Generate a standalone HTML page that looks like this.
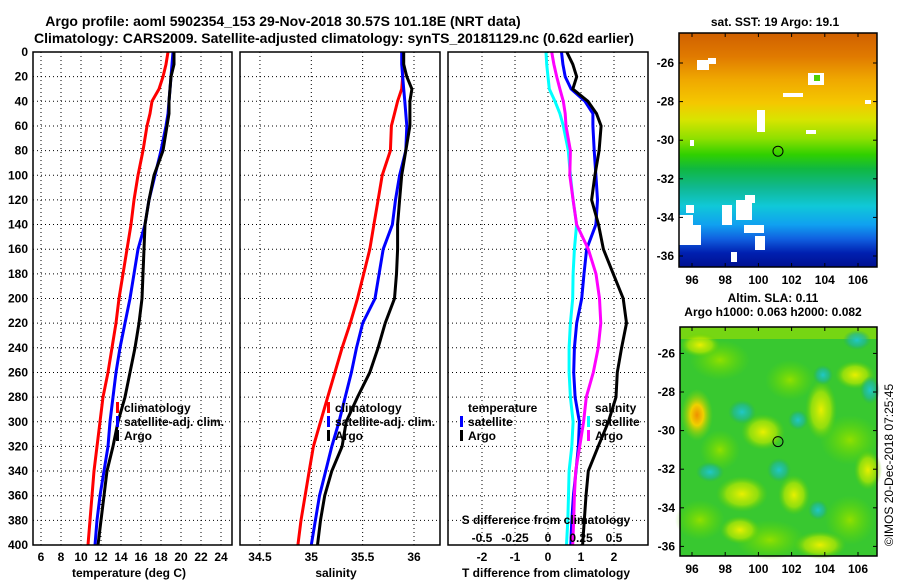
<!DOCTYPE html>
<html><head><meta charset="utf-8"><style>
html,body{margin:0;padding:0;background:#fff;}
svg{display:block;font-family:"Liberation Sans",sans-serif;font-weight:bold;}
</style></head><body>
<svg id="fig" width="900" height="580" viewBox="0 0 900 580" xmlns="http://www.w3.org/2000/svg">
<defs>
<linearGradient id="sstg" x1="0" y1="0" x2="0" y2="1">
<stop offset="0" stop-color="#d06000"/><stop offset="0.1" stop-color="#e07a00"/><stop offset="0.2" stop-color="#f0a800"/><stop offset="0.3" stop-color="#f4c800"/><stop offset="0.37" stop-color="#d8e400"/><stop offset="0.45" stop-color="#90e000"/><stop offset="0.52" stop-color="#30d000"/><stop offset="0.58" stop-color="#10b840"/><stop offset="0.66" stop-color="#10b890"/><stop offset="0.74" stop-color="#10c8d8"/><stop offset="0.82" stop-color="#10a0f0"/><stop offset="0.88" stop-color="#1060e0"/><stop offset="0.94" stop-color="#0020b0"/><stop offset="1" stop-color="#001090"/></linearGradient>
<radialGradient id="yb"><stop offset="0" stop-color="#e8f000"/><stop offset="0.6" stop-color="#b8e800" stop-opacity="0.7"/><stop offset="1" stop-color="#60d000" stop-opacity="0"/></radialGradient>
<radialGradient id="ob"><stop offset="0" stop-color="#f09000"/><stop offset="0.4" stop-color="#f0d000"/><stop offset="1" stop-color="#80d800" stop-opacity="0"/></radialGradient>
<radialGradient id="cb"><stop offset="0" stop-color="#20c8c8"/><stop offset="0.6" stop-color="#20b898" stop-opacity="0.7"/><stop offset="1" stop-color="#20b060" stop-opacity="0"/></radialGradient>
<radialGradient id="lb"><stop offset="0" stop-color="#90e000"/><stop offset="1" stop-color="#60d800" stop-opacity="0"/></radialGradient>
</defs>
<g id="plots"></g>
</svg>
<script>
// ---- data arrays ----
const depths = [0,10,20,30,40,50,60,80,100,120,140,160,180,200,220,240,260,280,300,320,340,360,380,400];
const tempClim = [18.7,18.5,18.2,17.8,17.1,16.9,16.6,16.2,15.7,15.3,15.0,14.6,14.2,13.8,13.5,13.1,12.7,12.2,11.9,11.6,11.3,11.1,10.9,10.7];
const tempSat  = [19.2,19.1,19.0,18.9,18.8,18.7,18.5,18.0,17.4,16.8,16.4,15.7,15.3,14.9,14.4,13.9,13.5,13.2,12.9,12.7,12.3,11.9,11.6,11.4];
const tempArgo = [19.3,19.3,19.0,18.9,18.8,18.8,18.6,18.2,17.3,16.8,16.4,16.3,16.2,16.1,15.8,15.4,14.9,14.4,13.7,13.2,12.6,12.3,12.0,11.7];
const salClim  = [35.89,35.89,35.89,35.88,35.84,35.81,35.78,35.77,35.69,35.65,35.61,35.57,35.51,35.45,35.38,35.30,35.23,35.16,35.09,35.02,34.98,34.94,34.90,34.87];
const salSat   = [35.88,35.88,35.89,35.90,35.91,35.92,35.93,35.92,35.86,35.82,35.79,35.70,35.66,35.62,35.50,35.44,35.39,35.33,35.27,35.20,35.14,35.08,35.04,35.00];
const salArgo  = [35.90,35.90,35.93,35.98,35.96,35.96,35.96,35.92,35.88,35.86,35.84,35.84,35.83,35.81,35.72,35.65,35.57,35.45,35.34,35.30,35.20,35.13,35.09,35.06];
const dTSat    = [0.41,0.45,0.52,0.7,1.12,1.36,1.36,1.40,1.45,1.50,1.45,1.17,1.09,1.02,0.87,0.80,0.78,0.82,0.95,0.92,0.85,0.77,0.72,0.69];
const dTArgo   = [0.57,0.75,0.87,0.75,1.21,1.47,1.61,1.55,1.42,1.32,1.53,1.68,1.98,2.28,2.38,2.23,2.10,2.06,1.83,1.52,1.22,1.15,1.10,1.05];
const dSSat    = [-0.015,-0.01,0.0,0.01,0.053,0.09,0.116,0.154,0.17,0.19,0.217,0.2,0.19,0.187,0.17,0.16,0.16,0.17,0.19,0.18,0.16,0.155,0.15,0.14];
const dSArgo   = [0.028,0.045,0.066,0.09,0.116,0.13,0.136,0.17,0.165,0.19,0.217,0.305,0.364,0.39,0.40,0.38,0.343,0.29,0.27,0.24,0.21,0.2,0.195,0.187];
const depthTicks = [0,20,40,60,80,100,120,140,160,180,200,220,240,260,280,300,320,340,360,380,400];
const tempTicks = [6,8,10,12,14,16,18,20,22,24];
const salTicks = [34.5,35,35.5,36];
const salTickLabels = ["34.5","35","35.5","36"];
const dTTicks = [-2,-1,0,1,2];
const dSTicks = [-0.5,-0.25,0,0.25,0.5];
const dSTickLabels = ["-0.5","-0.25","0","0.25","0.5"];
const latTicks = [-26,-28,-30,-32,-34,-36];
const lonTicks = [96,98,100,102,104,106];
const floatLon = 101.18, floatLat = -30.57;

// ---- helpers ----
const NS="http://www.w3.org/2000/svg";
const root=document.getElementById('plots');
function mk(tag,attrs,parent){const e=document.createElementNS(NS,tag);for(const k in attrs)e.setAttribute(k,attrs[k]);(parent||root).appendChild(e);return e;}
function txt(x,y,s,size,anchor,parent){const t=mk('text',{x:x,y:y,'font-size':size,'text-anchor':anchor||'start'},parent);t.textContent=s;return t;}
const Y=d=>52+d*(493/400);
const xT=v=>41+(v-6)*10;
const xS=v=>311.3+(v-35)*102.7;
const xD=v=>548+v*33;
const xDS=v=>548+v*132;

function panel(name,x0,x1,xTicks,xf){
  const g=mk('g',{});
  
  
  depthTicks.forEach(d=>{if(d>0&&d<400){mk('line',{x1:x0,x2:x1,y1:Y(d),y2:Y(d),stroke:'#000','stroke-width':1,'stroke-dasharray':'1,3'},g);}});
  xTicks.forEach(v=>{const X=xf(v);mk('line',{x1:X,x2:X,y1:52,y2:545,stroke:'#000','stroke-width':1,'stroke-dasharray':'1,3'},g);});
  return g;
}
function frame(name,x0,x1){
  const r=mk('rect',{x:x0,y:52,width:x1-x0,height:493,fill:'none',stroke:'#000','stroke-width':1.5});
  
  
}
function line(name,vals,xf,color){
  const pts=vals.map((v,i)=>xf(v).toFixed(1)+','+Y(depths[i]).toFixed(1)).join(' ');
  const p=mk('polyline',{points:pts,fill:'none',stroke:color,'stroke-width':3,'stroke-linejoin':'miter'});
  
  
}

// titles
let t=txt(283,26,'Argo profile: aoml 5902354_153 29-Nov-2018 30.57S 101.18E (NRT data)',14,'middle');


t=txt(334,43,'Climatology: CARS2009. Satellite-adjusted climatology: synTS_20181129.nc (0.62d earlier)',14,'middle');



// depth labels
depthTicks.forEach(d=>{const e=txt(28,Y(d)+4,String(d),12,'end');});

// panel 1 temperature
panel('temperature-grid',33,232,tempTicks,xT);
line('temp-climatology-line',tempClim,xT,'#ff0000');
line('temp-satellite-line',tempSat,xT,'#0000ff');
line('temp-argo-line',tempArgo,xT,'#000000');
frame('temperature-panel',33,232);
tempTicks.forEach(v=>{const e=txt(xT(v),561,String(v),12,'middle');});
t=txt(129,577,'temperature (deg C)',12,'middle');

// panel 2 salinity
panel('salinity-grid',240,440,salTicks,xS);
line('sal-climatology-line',salClim,xS,'#ff0000');
line('sal-satellite-line',salSat,xS,'#0000ff');
line('sal-argo-line',salArgo,xS,'#000000');
frame('salinity-panel',240,440);
salTicks.forEach((v,i)=>{const e=txt(xS(v),561,salTickLabels[i],12,'middle');});
t=txt(336,577,'salinity',12,'middle');

// panel 3 differences
panel('difference-grid',448,648,dTTicks,xD);
line('dS-satellite-line',dSSat,xDS,'#00ffff');
line('dT-satellite-line',dTSat,xD,'#0000ff');
line('dS-argo-line',dSArgo,xDS,'#ff00ff');
line('dT-argo-line',dTArgo,xD,'#000000');
frame('difference-panel',448,648);
dTTicks.forEach(v=>{const e=txt(xD(v),561,String(v),12,'middle');});
dSTicks.forEach((v,i)=>{const e=txt(xDS(v),542,dSTickLabels[i],12,'middle');});
t=txt(546,524,'S difference from climatology',12,'middle');
t=txt(546,577,'T difference from climatology',12,'middle');

// legends
function legItem(name,mx,tx,y,color,label){
  const g=mk('g',{});
  
  
  if(color)mk('rect',{x:mx,y:y-10,width:3,height:11,fill:color},g);
  txt(tx,y,label,12,'start',g);
}
legItem('legend-climatology',116,124,412,'#ff0000','climatology');
legItem('legend-satellite-adj',116,124,426,'#0000ff','satellite-adj. clim.');
legItem('legend-argo',116,124,440,'#000000','Argo');
legItem('legend-sal-climatology',327,335,412,'#ff0000','climatology');
legItem('legend-sal-satellite-adj',327,335,426,'#0000ff','satellite-adj. clim.');
legItem('legend-sal-argo',327,335,440,'#000000','Argo');
legItem('legend-temperature-header',0,468,412,null,'temperature');
legItem('legend-t-satellite',460,468,426,'#0000ff','satellite');
legItem('legend-t-argo',460,468,440,'#000000','Argo');
legItem('legend-salinity-header',0,595,412,null,'salinity');
legItem('legend-s-satellite',587,595,426,'#00ffff','satellite');
legItem('legend-s-argo',587,595,440,'#ff00ff','Argo');

// maps
function mapAxes(name,x0,y0,x1,y1,latRef,yRef){
  const lx=v=>692+(v-96)*16.6;
  const ly=v=>yRef+(latRef-v)*19.3;
  const g=mk('g',{});
  
  
  mk('rect',{x:x0,y:y0,width:x1-x0,height:y1-y0,fill:'none',stroke:'#000','stroke-width':1.5},g);
  latTicks.forEach(v=>{const yy=ly(v);mk('line',{x1:x0,x2:x0+4,y1:yy,y2:yy,stroke:'#000'},g);mk('line',{x1:x1,x2:x1-4,y1:yy,y2:yy,stroke:'#000'},g);txt(x0-5,yy+4,String(v),12,'end',g);});
  lonTicks.forEach(v=>{const xx=lx(v);mk('line',{x1:xx,x2:xx,y1:y1,y2:y1-4,stroke:'#000'},g);mk('line',{x1:xx,x2:xx,y1:y0,y2:y0+4,stroke:'#000'},g);txt(xx,y1+17,String(v),12,'middle',g);});
  mk('circle',{cx:lx(floatLon),cy:ly(floatLat),r:5,fill:'none',stroke:'#000','stroke-width':1},g);
}
// top map: SST
let m=mk('g',{});


mk('rect',{x:679,y:33,width:198,height:234,fill:'url(#sstg)'},m);
[[697,60,12,10],[708,58,8,6],[808,73,16,12],[783,93,20,4],[757,110,8,22],[690,140,4,6],[736,200,16,20],[745,195,10,8],[722,205,10,20],[679,225,22,20],[679,215,14,10],[744,225,20,8],[755,236,10,14],[731,252,6,10],[865,100,6,4],[806,130,10,4],[686,205,8,8]].forEach(r=>mk('rect',{x:r[0],y:r[1],width:r[2],height:r[3],fill:'#fff'},m));
mk('rect',{x:814,y:75,width:6,height:6,fill:'#50d000'},m);
mapAxes('sst-map-axes',679,33,877,267,-26,63);
t=txt(775,26,'sat. SST: 19 Argo: 19.1',12,'middle');
t=txt(773,302,'Altim. SLA: 0.11',12,'middle');
t=txt(773,316,'Argo h1000: 0.063 h2000: 0.082',12,'middle');

// bottom map: SLA
m=mk('g',{});


mk('rect',{x:680,y:327,width:197,height:229,fill:'#38c830'},m);
mk('rect',{x:680,y:327,width:197,height:12,fill:'#a0e000',opacity:0.6},m);
[[720,360,30,20],[850,440,30,25],[700,520,25,20],[770,540,35,20],[850,520,25,25],[790,380,25,20],[720,450,20,20]].forEach(b=>mk('ellipse',{cx:b[0],cy:b[1],rx:b[2],ry:b[3],fill:'url(#lb)'},m));
[[697,415,'ob',16,26],[763,432,'yb',22,18],[742,494,'yb',26,18],[794,495,'yb',16,20],[821,410,'yb',16,30],[740,530,'yb',20,14],[820,545,'yb',26,14],[700,345,'yb',20,12],[855,375,'yb',20,14],[868,470,'yb',14,20]].forEach(b=>mk('ellipse',{cx:b[0],cy:b[1],rx:b[3],ry:b[4],fill:'url(#'+b[2]+')'},m));
[[742,412,14,12],[798,420,10,10],[779,470,12,12],[823,375,10,10],[870,390,10,14],[818,510,10,10],[857,340,14,10],[710,472,14,10]].forEach(b=>mk('ellipse',{cx:b[0],cy:b[1],rx:b[2],ry:b[3],fill:'url(#cb)'},m));
mapAxes('sla-map-axes',680,327,877,556,-28,392);

t=mk('text',{x:0,y:0,'font-size':12,'font-weight':'normal','text-anchor':'middle',transform:'translate(893,465) rotate(-90)'});
t.textContent='©IMOS 20-Dec-2018 07:25:45';


</script>
</body></html>
